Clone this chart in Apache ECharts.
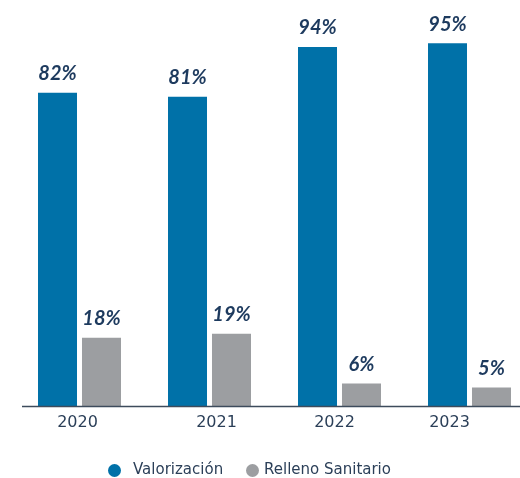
<!DOCTYPE html>
<html>
<head>
<meta charset="utf-8">
<script src="https://cdn.jsdelivr.net/npm/echarts@6/dist/echarts.min.js"></script>
<style>
  html, body { margin: 0; padding: 0; background: #ffffff; }
  #chart { width: 520px; height: 478px; }
</style>
</head>
<body>
<div id="chart"></div>
<script>
// Share of waste by destination, per year (%)
const years = ['2020', '2021', '2022', '2023'];
const valorizacion = [82, 81, 94, 95];
const relleno = [18, 19, 6, 5];
const seriesNames = ['Valorización', 'Relleno Sanitario'];

const BLUE = '#0071a8';
const GREY = '#9c9ea1';
const LABEL = '#1d3a5e';
const AXIS_TEXT = '#2b3f58';

// Small per-year nudges for the year labels under the bars
const yearStyle = {
  y2020: { padding: [0, 4, 0, 0] },
  y2021: { padding: [0, 0, 0, 14] },
  y2022: { padding: [0, 10, 0, 0] },
  y2023: { padding: [0, 40, 0, 0] }
};

const valueLabel = {
  show: true,
  position: 'top',
  distance: 9,
  formatter: '{c}%',
  fontFamily: 'Lato',
  fontWeight: 'bold',
  fontStyle: 'italic',
  fontSize: 20,
  color: LABEL
};

const chart = echarts.init(document.getElementById('chart'), null, { renderer: 'canvas' });

chart.setOption({
  animation: false,
  backgroundColor: '#ffffff',
  // Year groups sit on the axis ticks, 130px apart
  grid: { left: 79.5, width: 390, top: 24, bottom: 71.5, containLabel: false },
  legend: [
    {
      data: [seriesNames[0]],
      left: 103,
      top: 458,
      icon: 'circle',
      itemWidth: 13,
      itemHeight: 13,
      formatter: name => '{a|' + name + '}',
      textStyle: {
        fontFamily: 'DejaVu Sans',
        fontSize: 15,
        color: AXIS_TEXT,
        rich: { a: { fontFamily: 'DejaVu Sans', fontSize: 15, color: AXIS_TEXT, padding: [0, 0, 0, 7] } }
      }
    },
    {
      data: [seriesNames[1]],
      left: 241,
      top: 458,
      icon: 'circle',
      itemWidth: 13,
      itemHeight: 13,
      textStyle: { fontFamily: 'DejaVu Sans', fontSize: 15, color: AXIS_TEXT }
    }
  ],
  xAxis: {
    type: 'category',
    data: years,
    boundaryGap: false,
    axisLine: { show: false },
    axisTick: { show: false },
    axisLabel: {
      interval: 0,
      margin: 8,
      formatter: v => '{y' + v + '|' + v + '}',
      fontFamily: 'DejaVu Sans',
      fontSize: 16,
      color: AXIS_TEXT,
      rich: Object.fromEntries(Object.entries(yearStyle).map(([k, s]) => [k, Object.assign({ fontFamily: 'DejaVu Sans', fontSize: 16, color: AXIS_TEXT }, s)]))
    }
  },
  yAxis: {
    type: 'value',
    min: 0,
    max: 100,
    show: false,
    splitLine: { show: false }
  },
  series: [
    {
      name: seriesNames[0],
      type: 'bar',
      data: valorizacion,
      barWidth: 39,
      barGap: '12.8%',
      itemStyle: { color: BLUE },
      label: valueLabel
    },
    {
      name: seriesNames[1],
      type: 'bar',
      data: relleno,
      barWidth: 39,
      itemStyle: { color: GREY },
      label: valueLabel
    }
  ]
});

// Baseline rule along the category axis
const baseY = chart.convertToPixel({ yAxisIndex: 0 }, 0);
chart.setOption({
  graphic: [{
    type: 'line',
    shape: { x1: 22, y1: baseY, x2: 520, y2: baseY },
    style: { stroke: '#3d4b5c', lineWidth: 1.5 },
    z: 10
  }]
});
</script>
</body>
</html>
